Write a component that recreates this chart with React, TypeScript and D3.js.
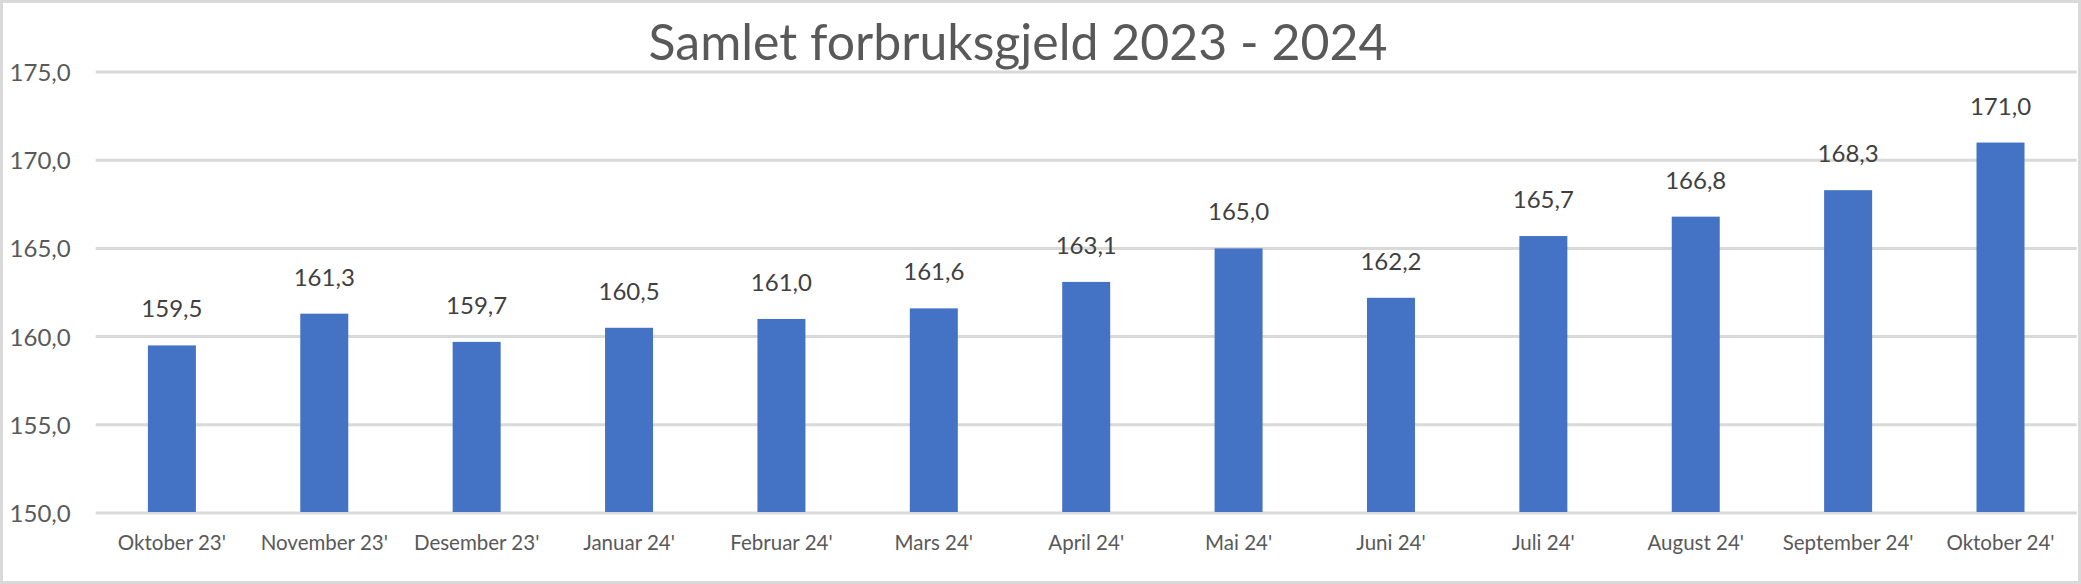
import React from "react";
import * as d3 from "d3";

const categories = [
  "Oktober 23'",
  "November 23'",
  "Desember 23'",
  "Januar 24'",
  "Februar 24'",
  "Mars 24'",
  "April 24'",
  "Mai 24'",
  "Juni 24'",
  "Juli 24'",
  "August 24'",
  "September 24'",
  "Oktober 24'",
];
const values = [159.5, 161.3, 159.7, 160.5, 161.0, 161.6, 163.1, 165.0, 162.2, 165.7, 166.8, 168.3, 171.0];
const yTicks = [150, 155, 160, 165, 170, 175];
const title = "Samlet forbruksgjeld 2023 - 2024";

const W = 2081;
const H = 584;
const plot = { left: 95.7, right: 2076.7, top: 72, bottom: 513 };
const FONT = "Lato, 'Open Sans', sans-serif";
const fmt = (v: number) => d3.format(".1f")(v).replace(".", ",");

export default function App() {
  const pad = 0.685;
  const x = d3
    .scaleBand<string>()
    .domain(categories)
    .range([plot.left, plot.right])
    .paddingInner(pad)
    .paddingOuter(pad / 2);
  const y = d3.scaleLinear().domain([150, 175]).range([plot.bottom, plot.top]);

  return (
    <svg
      width={W}
      height={H}
      style={{ position: "absolute", left: 0, top: 0, background: "#fff" }}
      fontFamily={FONT}
    >
      <rect x={1.5} y={1.5} width={W - 3} height={H - 3} fill="#fff" stroke="#d9d9d9" strokeWidth={3} />
      <text x={1018} y={60} textAnchor="middle" fontSize={50} fill="#595959">
        {title}
      </text>
      {yTicks.map((t) => (
        <g key={t}>
          <line x1={plot.left} x2={plot.right} y1={y(t)} y2={y(t)} stroke="#d9d9d9" strokeWidth={3} />
          <text x={70.7} y={y(t) + 9} textAnchor="end" fontSize={24} fill="#595959">
            {fmt(t)}
          </text>
        </g>
      ))}
      {categories.map((c, i) => {
        const bx = x(c) as number;
        const bw = x.bandwidth();
        const cx = bx + bw / 2;
        return (
          <g key={c}>
            <rect x={bx} y={y(values[i])} width={bw} height={y(150) - y(values[i]) - 1} fill="#4472C4" />
            <text x={cx} y={y(values[i]) - 28} textAnchor="middle" fontSize={24} fill="#404040">
              {fmt(values[i])}
            </text>
            <text x={cx} y={550} textAnchor="middle" fontSize={20.5} fill="#595959">
              {c}
            </text>
          </g>
        );
      })}
    </svg>
  );
}
